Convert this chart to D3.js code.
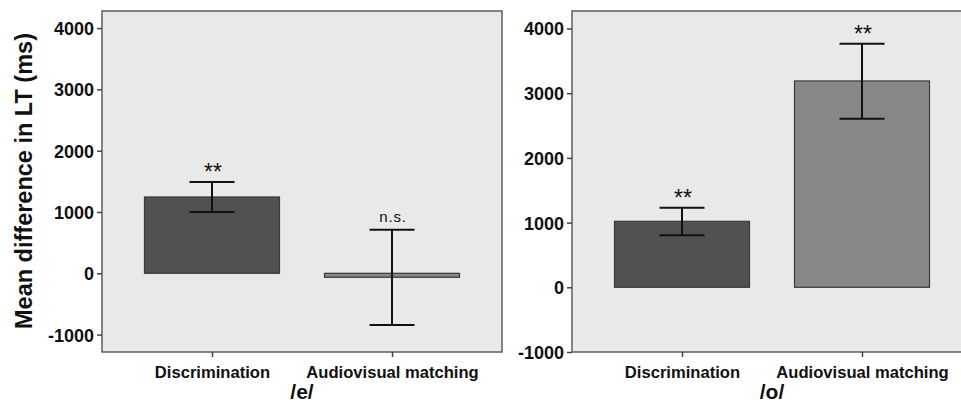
<!DOCTYPE html>
<html>
<head>
<meta charset="utf-8">
<script src="https://cdn.jsdelivr.net/npm/d3@7"></script>
<style>
  html, body { margin: 0; padding: 0; background: #ffffff; }
  svg { display: block; font-family: Arial, "Liberation Sans", sans-serif; }
</style>
</head>
<body>
<svg id="chart" width="961" height="402"></svg>
<script>
// Task categories shared by both vowel panels
const categories = ["Discrimination", "Audiovisual matching"];

// /e/ panel: mean difference in looking time (ms) with error-bar bounds
const eMeans = [1245, -65];
const eLower = [1000, -843];
const eUpper = [1489, 711];
const eMarks = ["**", "n.s."];

// /o/ panel
const oMeans = [1020, 3189];
const oLower = [804, 2606];
const oUpper = [1230, 3765];
const oMarks = ["**", "**"];

const yTicks = [-1000, 0, 1000, 2000, 3000, 4000];
const barColors = ["#515151", "#878787"];

const panels = [
  { title: "/e/", means: eMeans, lower: eLower, upper: eUpper, marks: eMarks,
    left: 102, domain: [-1284, 4279] },
  { title: "/o/", means: oMeans, lower: oLower, upper: oUpper, marks: oMarks,
    left: 572, domain: [-1000, 4270] }
];

const svg = d3.select("#chart");
const plotTop = 11, plotBottom = 352, panelW = 400;
const FONT = "Arial, 'Liberation Sans', sans-serif";

panels.forEach(p => {
  const y = d3.scaleLinear().domain(p.domain).range([plotBottom, plotTop]);
  const x = d3.scalePoint().domain(categories)
    .range([p.left, p.left + panelW]).padding(0.611);
  const barW = 135;
  const capW = 45;
  const g = svg.append("g");

  // plot background + frame
  g.append("rect")
    .attr("x", p.left).attr("y", plotTop)
    .attr("width", panelW).attr("height", plotBottom - plotTop)
    .attr("fill", "#e9e9e9")
    .attr("stroke", "#5e5e5e").attr("stroke-width", 1.5);

  // bars
  g.selectAll("rect.bar").data(categories).join("rect")
    .attr("class", "bar")
    .attr("x", d => x(d) - barW / 2)
    .attr("width", barW)
    .attr("y", (d, i) => y(Math.max(0, p.means[i])))
    .attr("height", (d, i) => Math.abs(y(p.means[i]) - y(0)))
    .attr("fill", (d, i) => barColors[i])
    .attr("stroke", "#3a3a3a").attr("stroke-width", 1.2);

  // error bars
  const eb = g.selectAll("g.err").data(categories).join("g").attr("class", "err")
    .attr("stroke", "#111").attr("stroke-width", 2);
  eb.append("line")
    .attr("x1", d => x(d)).attr("x2", d => x(d))
    .attr("y1", (d, i) => y(p.upper[i])).attr("y2", (d, i) => y(p.lower[i]));
  eb.append("line")
    .attr("x1", d => x(d) - capW / 2).attr("x2", d => x(d) + capW / 2)
    .attr("y1", (d, i) => y(p.upper[i])).attr("y2", (d, i) => y(p.upper[i]));
  eb.append("line")
    .attr("x1", d => x(d) - capW / 2).attr("x2", d => x(d) + capW / 2)
    .attr("y1", (d, i) => y(p.lower[i])).attr("y2", (d, i) => y(p.lower[i]));

  // significance marks
  g.selectAll("text.sig").data(categories).join("text")
    .attr("class", "sig")
    .attr("x", d => x(d) + 1)
    .attr("y", (d, i) => p.marks[i] === "**" ? y(p.upper[i]) - 2 : y(p.upper[i]) - 7.5)
    .attr("text-anchor", "middle")
    .style("font-size", (d, i) => p.marks[i] === "**" ? "23px" : "15px")
    .attr("letter-spacing", (d, i) => p.marks[i] === "**" ? 0 : 0.8)
    .attr("fill", "#111")
    .text((d, i) => p.marks[i]);

  // y axis
  const ya = g.append("g").attr("transform", `translate(${p.left},0)`)
    .call(d3.axisLeft(y).tickValues(yTicks).tickSize(5).tickPadding(3).tickFormat(d => String(d)));
  ya.attr("font-size", null).attr("font-family", null);
  ya.select(".domain").remove();
  ya.selectAll(".tick line").attr("stroke", "#444").attr("stroke-width", 1.5);
  ya.selectAll(".tick text")
    .style("font-size", "18px").style("font-weight", "bold").style("font-family", FONT)
    .attr("fill", "#111").attr("dy", "0.36em");

  // x axis
  const xa = g.append("g").attr("transform", `translate(0,${plotBottom})`)
    .call(d3.axisBottom(x).tickSize(5).tickPadding(9));
  xa.attr("font-size", null).attr("font-family", null);
  xa.select(".domain").remove();
  xa.selectAll(".tick line").attr("stroke", "#444").attr("stroke-width", 1.5);
  xa.selectAll(".tick text")
    .style("font-size", "16.6px").style("font-weight", "bold").style("font-family", FONT)
    .attr("fill", "#111");

  // panel title below axis
  g.append("text")
    .attr("x", p.left + panelW / 2).attr("y", 399)
    .attr("text-anchor", "middle")
    .style("font-size", "21px").style("font-weight", "bold").attr("fill", "#111")
    .text(p.title);
});

// shared y-axis title
svg.append("text")
  .attr("transform", "translate(32,181) rotate(-90)")
  .attr("text-anchor", "middle")
  .style("font-size", "23.5px").style("font-weight", "bold").attr("fill", "#111")
  .text("Mean difference in LT (ms)");
</script>
</body>
</html>
